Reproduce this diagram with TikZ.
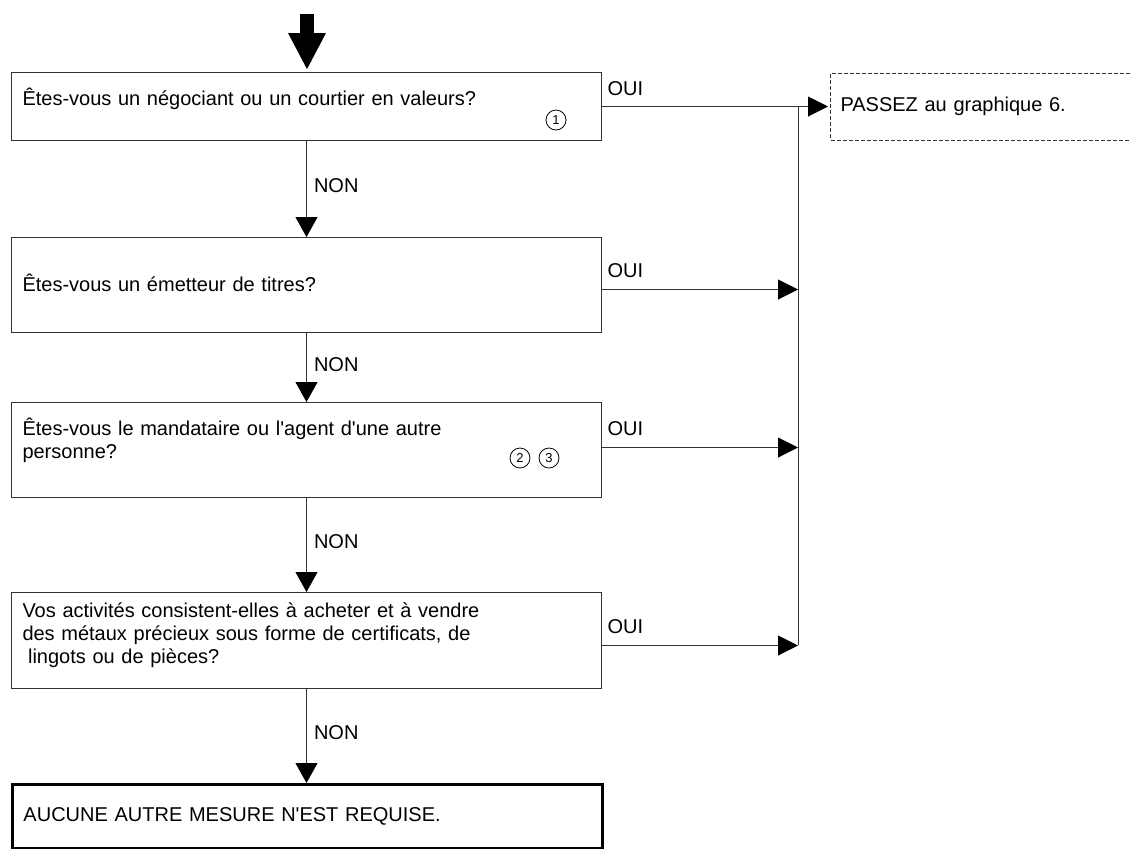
\documentclass[tikz,border=0pt]{standalone}
\usepackage{fontspec}
\setmainfont{Liberation Sans}
\usetikzlibrary{arrows.meta}
\tikzset{
    qbox/.style={draw=black!80, line width=0.5pt, anchor=north west, minimum width=295pt, text width=284pt, inner xsep=5.5pt, align=left}, % question boxes
    lift/.style={execute at end node={\par\kern#1}}, % pushes the text up by half of #1
    flow/.style={draw=black!80, line width=0.5pt, -{Triangle[length=10pt, width=11pt, color=black]}}, % thin arrows
    ans/.style={inner sep=0pt}, % OUI / NON
    note/.style={circle, draw, line width=0.4pt, minimum size=10pt, inner sep=0pt, font=\fontsize{6.5}{7}\selectfont} % circled note numbers
}

\begin{document}
\begin{tikzpicture}[x=0.5pt, y=-0.5pt, font=\fontsize{10}{11.5}\selectfont]
    \useasboundingbox (0,0) rectangle (1130,848);

    \node[qbox, lift=8pt, minimum height=34pt] (q1) at (11,72) {Êtes-vous un négociant ou un courtier en valeurs?};
    \node[qbox, lift=2pt, minimum height=47.5pt] (q2) at (11,237) {Êtes-vous un émetteur de titres?};
    \node[qbox, lift=10pt, minimum height=47.5pt] (q3) at (11,402) {Êtes-vous le mandataire ou l\textquotesingle agent d\textquotesingle une autre\\personne?};
    \node[qbox, lift=5pt, minimum height=48pt] (q4) at (11,592) {Vos activités consistent-elles à acheter et à vendre\\des métaux précieux sous forme de certificats, de\\\hspace{0.28em}lingots ou de pièces?};
    \node[qbox, draw=black, line width=1.5pt, minimum height=32pt] (fin) at (11,783) {AUCUNE AUTRE MESURE N\textquotesingle EST REQUISE.};

    \node[note] (n1) at (556,120) {1};
    \node[note] (n2) at (520,458) {2};
    \node[note] (n3) at (549,458) {3};

    \node[draw=black!80, line width=0.5pt, dash pattern=on 2pt off 1pt, anchor=west, minimum height=33.5pt, text width=150pt, inner xsep=5pt, align=left] (passez) at (830,106.5) {PASSEZ au graphique 6.};

    % entry arrow
    \coordinate (top) at (307,14);
    \draw[line width=7pt, -{Triangle[length=18.5pt, width=17.5pt]}] (top) -- ([yshift=1pt]top |- q1.north);

    % NON
    \draw[flow] (q1.south) -- node[ans, right, xshift=3.5pt, yshift=1.5pt] {NON} (q2.north);
    \draw[flow] (q2.south) -- node[ans, right, xshift=3.5pt, yshift=1.5pt] {NON} (q3.north);
    \draw[flow] (q3.south) -- node[ans, right, xshift=3.5pt, yshift=1.5pt] {NON} (q4.north);
    \draw[flow] (q4.south) -- node[ans, right, xshift=3.5pt, yshift=1.5pt] {NON} (q4.south |- fin.north);

    % OUI
    \coordinate (bus1) at (798,106);
    \coordinate (bus4) at (798,645);
    \draw[draw=black!80, line width=0.5pt] (bus1) -- (bus4);
    \draw[flow, shorten >=1pt, -{Triangle[length=10pt, width=10pt, color=black]}] (q1.east) node[ans, anchor=south west, xshift=2.5pt, yshift=5pt] {OUI} -- (passez.west);
    \foreach \i/\dy in {2/-2.25pt, 3/1.25pt, 4/-2.5pt} {
        \coordinate (o\i) at ([yshift=\dy]q\i.east);
        \draw[flow, -{Triangle[length=10pt, width=10pt, color=black]}] (o\i) node[ans, anchor=south west, xshift=2.5pt, yshift=5.5pt] {OUI} -- (o\i -| bus1);
    }
\end{tikzpicture}
\end{document}
